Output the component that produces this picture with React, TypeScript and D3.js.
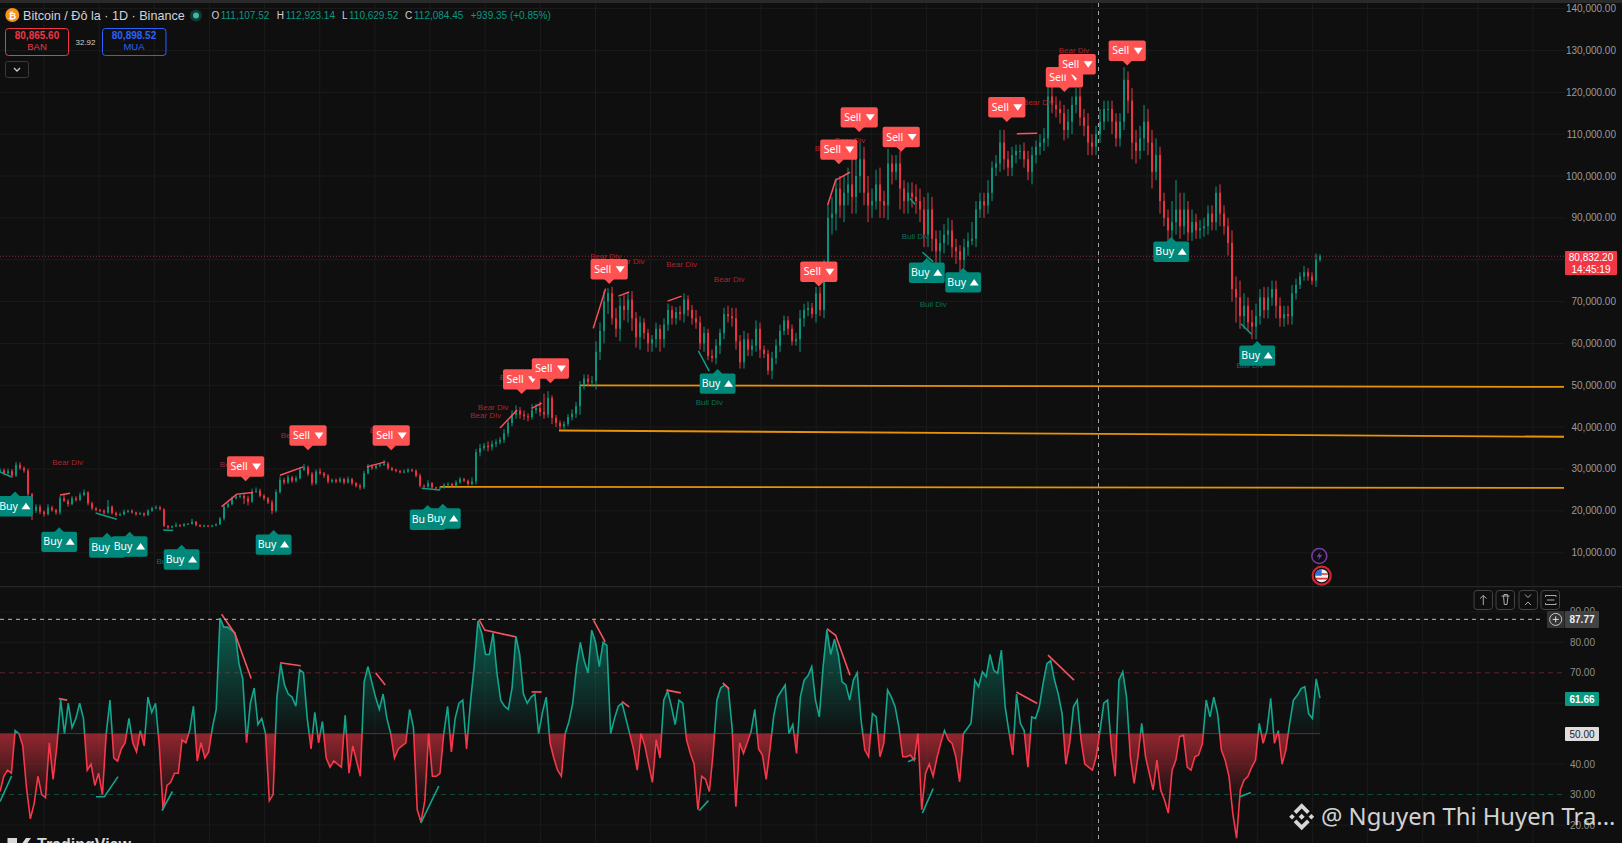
import { area, format, line as d3_line, range, scaleLinear } from "d3";

// prices are in thousands of USD, one bar every 4px of the picture
const closes = [
  29.7,29.0,29.5,28.4,31.0,30.2,29.6,24.0,20.0,21.0,19.8,19.2,20.8,20.2,19.6,23.0,22.4,21.6,23.0,22.6,23.8,24.4,21.8,20.6,20.2,
  20.0,19.6,21.0,19.5,19.0,19.2,19.8,20.0,19.6,19.2,19.4,19.0,20.0,20.6,20.8,20.4,16.4,16.0,16.3,16.6,16.4,16.8,16.9,17.4,16.6,
  16.3,16.5,16.3,16.5,16.8,18.2,21.0,21.6,23.0,23.4,23.6,23.0,22.2,24.6,24.8,23.6,23.0,22.0,20.0,24.5,27.4,26.8,28.0,27.2,27.8,
  29.8,30.4,28.8,26.6,29.4,29.0,28.4,27.0,27.4,27.0,27.6,26.8,27.6,26.6,26.0,25.6,29.0,30.6,30.2,30.8,31.0,31.3,30.2,29.8,29.5,
  29.2,29.4,29.8,29.6,28.4,26.0,25.8,26.6,25.6,25.4,25.6,26.2,26.4,26.0,26.8,27.6,27.2,26.4,27.0,34.0,35.0,35.6,35.2,36.0,36.4,
  37.0,38.5,41.0,43.0,44.0,43.0,42.6,42.4,44.0,44.6,43.6,43.0,47.0,42.2,41.0,40.2,40.8,42.4,43.2,45.0,50.0,51.6,50.8,51.0,58.0,
  63,70,72,66,63.5,69,68,70.5,66,61.5,65,62.5,60,61,63.5,61,64.5,68,66,67.5,67,70.5,68,66,65,
  60,62.5,57,56.5,59.5,62.5,67,66.5,66,60.5,55.5,61,58.5,59.5,63.5,58.5,57.5,53.5,56.5,59.5,63,65.5,63.5,60.5,61,
  66,68,68.5,67,72,68,78,90,91,97,93,96,98,95,100,104,96,93,94,98,94,93,103,101,103,
  97,94,96,95,94,92,86,92,85,82,84,86,87,83,82,80,83,84.5,85,92,94,93,96,102,103,
  108,104,102,105,106,106,104,101,105,107,108,109,119,117,116,115,111,113,117,119,114,112,108,107,110,
  113,116,116,113,109,113,123,118,108,106,109,113,108,101,105,94,90,87,89,92,88,92,86.5,89,87,
  87.5,88,91,89,96,91,88,84,73,71,66.5,69,65,64,66.5,71,68,71,73,69,66,67,66.5,72,74,
  76,77,76,75,80,80.8,
];
const wickUp = [
  .5,.4,.6,.5,.7,.6,.4,.5,.3,.6,.5,.3,.8,.4,.3,.6,.8,.4,.5,.5,.6,.7,.3,.4,.3,
  .3,.4,1.6,.3,.3,.4,.5,.3,.4,.2,.3,.2,.4,.4,.5,.4,.2,.2,.2,.6,.2,.3,.2,.7,.2,
  .2,.2,.1,.2,.2,.3,.4,.4,.4,.5,.4,.5,.6,.7,.8,.5,.4,.3,.6,.6,.8,.5,.6,.4,.6,
  .5,.8,.4,.5,.5,.8,.3,.4,.3,.3,.5,.3,.6,.3,.3,.5,.6,.6,.5,.4,.4,.8,.4,.3,.3,
  .3,.5,.4,.3,.3,.5,.3,.7,.3,.2,.3,.4,.4,.3,.5,.5,.3,.3,1.0,.8,1,.6,1,.8,.7,
  .6,1,.8,1,1.2,.8,1,.7,1.5,1,1.5,4.4,1.6,.6,.7,.6,.6,.7,1,1,1,1,1,1.2,2.5,
  2,2.5,1.2,1.5,2.5,2,2.5,1.5,2,1.5,1.5,1,1,1,1.5,1,1.5,1.5,1,1.2,1.5,1.5,1,1.2,2,
  1.5,1.5,1,1.5,1.5,1,1.5,2,2,2.5,1.5,2,1.5,1.5,2,1.5,1,1,1.5,1.5,1.5,1.2,1,1,1.5,
  2,1.5,1.5,1.2,1.5,1.5,2,3,4,2.5,3,4,4,6,5,4,3,4,3,3.5,4,2.5,3.5,2,2,
  3,2,2.5,2.5,3,3,3,4,3,2,3,2.5,3,2.5,2,1.5,2,2,4,2,2,2,3,1.5,2,
  3,3,2,2,1.5,1.5,2,2,2,1.5,2,2.5,3,3,2,2,2,3,2,2,2,2,3,2,2,
  3,2,2,2,2,2,3,2,3,3,3,4,3,3,4,2,2,2,5,7,4,4,2,3,2,
  2,2,2,2,1.5,2,2,2,3,3,4,3,2,3,3,2,2.5,2.5,2,2,2,2,2,2,1.5,
  1,1.5,1,1,1.5,.5,
];
const wickDown = [
  .4,.5,.4,.5,.3,.4,.5,.5,2.2,.5,.6,.6,.3,.4,.5,.5,.3,.6,.3,.4,.3,.3,.5,.4,.3,
  .3,.5,.3,.4,.4,.3,.3,.3,.3,.4,.2,.4,.2,.2,.2,.3,.3,.3,.2,.2,.3,.2,.2,.2,.3,
  .2,.2,.2,.2,.2,.2,.5,.4,.3,.3,.4,1.4,.9,.3,.3,.4,.5,.4,.8,.4,.4,.5,.4,.5,.4,
  .3,.3,.5,.6,.4,.4,.6,.5,.3,.4,.3,.5,.3,.5,.4,.6,.4,.3,.4,.3,.3,.3,.4,.3,.3,
  .3,.2,.3,.3,.4,.4,.3,.3,.3,.5,.3,.3,.2,.4,.3,.3,.3,.4,.3,.7,1,.6,1,.8,.8,
  .5,.8,.8,.8,1,1,.9,1,.6,.8,1,1,.8,1.5,1,.8,.6,.6,.8,1,2,1,1,1.2,2,
  2,3,3,1.5,2,3,2.5,3,3,2.5,3,1.5,2,2,2,3,2,1.5,1.5,1.5,1.5,2,1.5,1.5,1.5,
  1.5,2,1,1,1.5,2,1.5,1.5,2,2,1.5,1.5,1.5,1.5,1.5,2,1,1,2,1.5,1.5,1,1.5,1,1,
  3,2,1.5,1,2,1.5,2,3,4,4,3,4,3,4,4,4,3,4,3,2,4,3,3.5,3,2,
  5,3,3,2.5,3,3,3,3,3,3,3,2.5,2.5,2.5,3,3,2,2,1,2,2,3,2,2,2,
  2,2.5,2,2,2,2,2,2,3,2,2,2,2,2,2,2.5,2.5,2,3,2,2,2.5,3,2,2,
  2,2,3,3,2,2,2,3,4,3,2,3,3,4,2,3,2,6,2,3,3,2,2,2,2,
  2,2,2,2,2,3,2,3,3,6,3,3,2,3,3,2,2,2,2,3,2,2,2,2,1.5,
  1,1,1,1,1.5,.5,
];

const rsiValues = [
  31,36,38,37,51,50,46,32,22,27,36,30,29,47,35,46,61,50,60,52,55,60,55,38,40,33,37,30,50,61,42,41,45,47,55,47,44,51,46,62,57,60,46,25,33,34,37,37,48,47,
  51,59,41,47,42,44,52,58,88,85,85,84,83,73,68,47,60,65,53,55,50,28,30,62,73,66,63,62,59,71,70,55,45,57,47,54,42,39,41,40,39,56,37,46,41,36,67,72,67,62,
  58,63,55,50,42,45,46,47,58,52,25,21,28,50,36,36,37,50,59,44,55,60,61,45,60,72,87,83,76,76,83,70,61,59,58,65,82,76,63,60,62,63,50,57,62,47,42,38,36,50,
  54,60,72,80,74,70,84,80,72,80,79,50,55,59,60,55,50,45,38,50,46,40,34,48,42,
  61,64,59,53,61,60,48,43.5,40,25,36,35,31,43.5,61,65,66,65,52,26,47,43.5,47,50.6,58,45,43,35,45,56,62,64,66,50,53,43.5,62,67.6,69,72,61,55.5,72,84,76,81,76,67,66,61,
  67.6,70,54.5,44.6,42.4,56.6,55.5,42.4,46.8,64.3,62,58.8,52,42.4,42.4,43,41.3,50,25,37,40,36,42,46.8,51,48,46.8,42.4,34.2,50,51.7,53.4,67.6,65.4,70.3,68.7,76,70.8,69.8,77.4,58.8,50.6,43,63,53.4,51,39,55.5,55,58.8,
  66.5,73,74,67.6,63,56.6,40,46.8,58.8,61,48,40,39,38,42.4,51,60,61,45.7,36,67.6,70.3,62,42.4,33.7,42.4,53.4,42.4,37,31.5,41.3,31.5,28.2,23.9,38,41.3,49,49.5,39,38,42.4,43,46.8,61,55.5,62,56.6,44.6,41.3,36,
  23.9,15.7,31.5,34.8,36,39,41.3,53.4,46.8,51,61.6,46.8,51,40,44.6,53.4,61,62.6,64.8,65.4,56.6,55,68,61.66,
];

const priceTicks = [10,20,30,40,50,60,70,80,90,100,110,120,130,140];
const rsiTicks = [20,30,40,70,80,90];
const gridBars = range(0, 28);

const buyBars = [3.75,14.8,26.75,32.4,45.4,68.4,106.9,110.7,179.4,231.7,240.8,292.8,314.3];
const buyPrices = [24.6,16.1,14.75,15,11.9,15.45,21.4,21.7,53.9,80.4,78.1,85.4,60.6];
const sellBars = [61.4,77,97.8,130.4,137.6,152.3,204.7,209.7,214.8,225.3,251.7,266.1,269.3,281.8];
const sellPrices = [27.1,34.5,34.5,47.9,50.5,74.2,73.6,102.8,110.5,105.8,112.9,120.1,123.2,126.4];

const bearDivBars = [16.9,74,96.3,58.8,123.3,121.4,128.8,135.4,151.4,157.3,170.4,182.3,212.5,207.5,268.5,259.6];
const bearDivPrices = [31.6,38.2,39.3,31.2,44.8,43,52,53.2,80.8,79.8,78.9,75.4,108.5,106.6,130,117.8];
const bullDivBars = [177.3,228.8,233.3,312.5,25.8,42.5,109.5,2.5];
const bullDivPrices = [45.9,85.6,69.5,54.8,10.6,7.9,17.2,20.9];

type Pt = [number, number];
const priceBearLines: Pt[][] = [
  [[15,23.8],[17.5,24.2]],[[55.4,21],[59.2,24],[63.3,24.4]],[[70,28.5],[75.8,30.5]],[[91.7,30.5],[96.3,31.7]],
  [[125,39.8],[129.3,44.1]],[[132.9,44.5],[135.4,45.7]],[[148.3,63.6],[151.4,73.1]],[[154.6,71.3],[157.3,72.3]],
  [[166.9,70.1],[170.4,71.3]],[[206.9,93],[208.9,99],[212.5,100.9]],[[254.2,110.1],[259.3,110.2]],[[262.1,121.6],[268.8,122.4]],
];
const priceBullLines: Pt[][] = [
  [[0,29.3],[2.9,28.1]],[[23.9,19.5],[29.2,18]],[[40.8,15.4],[43.3,15.3]],[[105.4,25.4],[110,25]],
  [[174.6,58.2],[177.3,53.4]],[[227.5,94.6],[228.8,93.2]],[[230.6,81.8],[233.3,79.5]],[[310.2,64.7],[312.9,62.2]],
];
const rsiBearLines: Pt[][] = [
  [[14.7,61.5],[16.8,61]],[[55.4,89.2],[58.7,82.9],[62.8,68.1]],[[70,73.3],[75.2,72.3]],[[93.9,70],[96.3,66]],
  [[119.7,87.5],[121.2,84],[128.9,81.8]],[[132.9,63.7],[135.4,63.7]],[[148.4,87.2],[151.3,80.1]],[[155.5,60.5],[157.3,58.8]],
  [[166.6,64.3],[170.2,63.4]],[[180.7,66.7],[182.3,64.7]],[[206.7,84.5],[208.9,82.3],[212.5,69.2]],[[254.1,63.7],[259.3,59.9]],[[262,75.8],[268.5,67.6]],
];
const rsiBullLines: Pt[][] = [
  [[0,27.7],[2.9,36.1]],[[24,29.3],[26.1,29.3],[29.5,35.9]],[[40.5,24.7],[43.1,31]],[[105.2,20.6],[109.7,32.8]],
  [[174.8,24.7],[177.1,28]],[[227,40.8],[229,41.9]],[[230.6,23.9],[233.3,32]],[[310,29.3],[312.7,30.7]],
];
const levelStarts = [145, 139.75, 110];
const levelEnds = [391, 391, 391];
const levelStartPrices = [50, 39.2, 25.75];
const levelEndPrices = [49.6, 37.7, 25.5];

const lastPrice = 80.832;
const UP = "#089981";
const DOWN = "#f23645";
const FONT = "'Liberation Sans', Arial, sans-serif";

const x = scaleLinear().domain([0, 330]).range([0, 1320]);
const y = scaleLinear().domain([10, 140]).range([552.7, 8.6]);
const rsiX = scaleLinear().domain([0, rsiValues.length - 1]).range([0, 1320]);
const rsiY = scaleLinear().domain([20, 80]).range([825, 642.3]);
const fmt = format(",.2f");

const priceLine = d3_line<Pt>().x((d) => x(d[0])).y((d) => y(d[1]));
const rsiDivLine = d3_line<Pt>().x((d) => x(d[0])).y((d) => rsiY(d[1]));
const rsiPath = d3_line<number>().x((_, i) => rsiX(i)).y((d) => rsiY(d));
const rsiArea = area<number>().x((_, i) => rsiX(i)).y0(rsiY(50)).y1((d) => rsiY(d));

const SignalLabel = ({ bar, price, kind }: { bar: number; price: number; kind: "Buy" | "Sell" }) => {
  const cx = x(bar);
  const tip = y(price);
  const isBuy = kind === "Buy";
  const w = isBuy ? 35.8 : 37.2;
  const h = 20.4;
  const top = isBuy ? tip + 4.5 : tip - 4.5 - h;
  const tri = isBuy
    ? `M${cx - 5},${top + 0.5} L${cx},${tip} L${cx + 5},${top + 0.5} Z`
    : `M${cx - 5},${top + h - 0.5} L${cx},${tip} L${cx + 5},${top + h - 0.5} Z`;
  const ix = cx + 11;
  const iy = top + h / 2;
  const glyph = isBuy
    ? `M${ix - 4.5},${iy + 3} L${ix},${iy - 3.5} L${ix + 4.5},${iy + 3} Z`
    : `M${ix - 4.5},${iy - 3} L${ix},${iy + 3.5} L${ix + 4.5},${iy - 3} Z`;
  const fill = isBuy ? "#00897b" : "#ff5252";
  return (
    <g>
      <rect x={cx - w / 2} y={top} width={w} height={h} rx={2} fill={fill} />
      <path d={tri} fill={fill} />
      <text x={cx - 6.5} y={iy + 3.5} textAnchor="middle" fontSize={10.5} fontFamily="'Noto Sans', sans-serif" fill="#fff">
        {kind}
      </text>
      <path d={glyph} fill="#fff" />
    </g>
  );
};

const AxisBox = ({ top, h, fill, color, lines, bold }: { top: number; h: number; fill: string; color: string; lines: string[]; bold?: boolean }) => (
  <g>
    <rect x={1565} y={top} width={lines.length > 1 ? 52 : 34} height={h} rx={1} fill={fill} />
    {lines.map((t, i) => (
      <text
        key={t}
        x={lines.length > 1 ? 1591 : 1582}
        y={top + (lines.length > 1 ? 10 + i * 11.5 : h / 2 + 3.5)}
        textAnchor="middle"
        fontSize={10}
        fontWeight={bold ? 700 : 400}
        fontFamily={FONT}
        fill={color}
      >
        {t}
      </text>
    ))}
  </g>
);

export default function App() {
  const grid = "#1b1b1b";
  return (
    <svg
      width={1622}
      height={843}
      viewBox="0 0 1622 843"
      style={{ position: "fixed", left: 0, top: 0, display: "block", background: "#0f0f0f" }}
    >
      <defs>
        <clipPath id="above">
          <rect x={0} y={587} width={1622} height={rsiY(50) - 587} />
        </clipPath>
        <clipPath id="below">
          <rect x={0} y={rsiY(50)} width={1622} height={843 - rsiY(50)} />
        </clipPath>
        <linearGradient id="greenFill" gradientUnits="userSpaceOnUse" x1={0} x2={0} y1={rsiY(85)} y2={rsiY(50)}>
          <stop offset="0" stopColor={UP} stopOpacity={0.55} />
          <stop offset="1" stopColor={UP} stopOpacity={0.02} />
        </linearGradient>
        <linearGradient id="redFill" gradientUnits="userSpaceOnUse" x1={0} x2={0} y1={rsiY(50)} y2={rsiY(28)}>
          <stop offset="0" stopColor={DOWN} stopOpacity={0.58} />
          <stop offset="1" stopColor={DOWN} stopOpacity={0.02} />
        </linearGradient>
      </defs>

      {/* grid */}
      <rect x={0} y={0} width={1622} height={3} fill="#2a2a2a" />
      {gridBars.map((k) => (
        <line key={k} x1={44 + k * 55.15} x2={44 + k * 55.15} y1={3} y2={843} stroke={grid} />
      ))}
      {priceTicks.map((t) => (
        <line key={t} x1={0} x2={1565} y1={y(t)} y2={y(t)} stroke={grid} />
      ))}
      {[20, 40, 60, 80, 90].map((t) => (
        <line key={t} x1={0} x2={1565} y1={rsiY(t)} y2={rsiY(t)} stroke={grid} />
      ))}
      <line x1={0} x2={1622} y1={586.7} y2={586.7} stroke="#2e2e2e" />

      {/* last price */}
      <line x1={0} x2={1565} y1={y(lastPrice)} y2={y(lastPrice)} stroke="#8f2f38" strokeDasharray="1 2" />

      {/* key levels */}
      {levelStarts.map((s, i) => (
        <line key={i} x1={x(s)} x2={x(levelEnds[i])} y1={y(levelStartPrices[i])} y2={y(levelEndPrices[i])} stroke="#e8920a" strokeWidth={1.8} />
      ))}

      {/* candles */}
      {closes.map((c, i) => {
        const o = i === 0 ? c : closes[i - 1];
        const color = c >= o ? UP : DOWN;
        const hi = Math.max(o, c) + (wickUp[i] ?? 0.5);
        const lo = Math.min(o, c) - (wickDown[i] ?? 0.5);
        return (
          <g key={i}>
            <line x1={x(i)} x2={x(i)} y1={y(hi)} y2={y(lo)} stroke={color} strokeWidth={1} />
            <rect x={x(i) - 0.9} width={1.8} y={y(Math.max(o, c))} height={Math.max(1, y(Math.min(o, c)) - y(Math.max(o, c)))} fill={color} />
          </g>
        );
      })}

      {/* divergence lines */}
      {priceBearLines.map((l, i) => (
        <path key={i} d={priceLine(l)!} fill="none" stroke="#f7525f" strokeWidth={1.5} />
      ))}
      {priceBullLines.map((l, i) => (
        <path key={i} d={priceLine(l)!} fill="none" stroke="#0e9c84" strokeWidth={1.5} />
      ))}

      {/* divergence labels */}
      {bearDivBars.map((b, i) => (
        <text key={i} x={x(b)} y={y(bearDivPrices[i]) + 3} textAnchor="middle" fontSize={8} fontFamily={FONT} fill="#a8252f">
          Bear Div
        </text>
      ))}
      {bullDivBars.map((b, i) => (
        <text key={i} x={x(b)} y={y(bullDivPrices[i]) + 3} textAnchor="middle" fontSize={8} fontFamily={FONT} fill="#0b6d5d">
          Bull Div
        </text>
      ))}

      {/* buy / sell */}
      {buyBars.map((b, i) => (
        <SignalLabel key={i} bar={b} price={buyPrices[i]} kind="Buy" />
      ))}
      {sellBars.map((b, i) => (
        <SignalLabel key={i} bar={b} price={sellPrices[i]} kind="Sell" />
      ))}

      {/* crosshair */}
      <line x1={1098.5} x2={1098.5} y1={3} y2={843} stroke="#a6a6a6" strokeDasharray="4 4" />

      {/* rsi pane */}
      <line x1={0} x2={1565} y1={rsiY(70)} y2={rsiY(70)} stroke="#5c2329" strokeDasharray="5 4" />
      <line x1={0} x2={1565} y1={rsiY(30)} y2={rsiY(30)} stroke="#0f4b40" strokeDasharray="5 4" />
      <path d={rsiArea(rsiValues)!} fill="url(#greenFill)" clipPath="url(#above)" />
      <path d={rsiArea(rsiValues)!} fill="url(#redFill)" clipPath="url(#below)" />
      <line x1={0} x2={1320} y1={rsiY(50)} y2={rsiY(50)} stroke="#3c3c3c" />
      <path d={rsiPath(rsiValues)!} fill="none" stroke="#14a58d" strokeWidth={1.6} clipPath="url(#above)" />
      <path d={rsiPath(rsiValues)!} fill="none" stroke="#f7374a" strokeWidth={1.6} clipPath="url(#below)" />
      {rsiBearLines.map((l, i) => (
        <path key={i} d={rsiDivLine(l)!} fill="none" stroke="#f7525f" strokeWidth={1.6} />
      ))}
      {rsiBullLines.map((l, i) => (
        <path key={i} d={rsiDivLine(l)!} fill="none" stroke="#14a58d" strokeWidth={1.6} />
      ))}
      <line x1={0} x2={1543} y1={619.3} y2={619.3} stroke="#bdbdbd" strokeDasharray="4 4" />

      {/* price axis */}
      {priceTicks.map((t) => (
        <text key={t} x={1616} y={y(t) + 3.5} textAnchor="end" fontSize={10} fontFamily={FONT} fill="#9b9b9b">
          {fmt(t * 1000)}
        </text>
      ))}
      {rsiTicks.map((t) => (
        <text key={t} x={1595} y={rsiY(t) + 3.5} textAnchor="end" fontSize={10} fontFamily={FONT} fill="#8e8e8e">
          {fmt(t)}
        </text>
      ))}
      <AxisBox top={251} h={24} fill={DOWN} color="#fff" lines={["80,832.20", "14:45:19"]} />
      <rect x={1547} y={611} width={17.5} height={17} rx={1} fill="#333" />
      <circle cx={1555.7} cy={619.4} r={6} fill="none" stroke="#c8c8c8" />
      <path d="M1555.7,616.4 V622.4 M1552.7,619.4 H1558.7" stroke="#e0e0e0" />
      <AxisBox top={611} h={17} fill="#434343" color="#f0f0f0" lines={["87.77"]} bold />
      <AxisBox top={692} h={14} fill={UP} color="#fff" lines={["61.66"]} bold />
      <AxisBox top={727} h={14} fill="#dedede" color="#222" lines={["50.00"]} />

      {/* pane buttons */}
      {[1474, 1496, 1519, 1541].map((bx) => (
        <rect key={bx} x={bx} y={590.5} width={18.5} height={19} rx={3} fill="#0f0f0f" stroke="#444" />
      ))}
      <path d="M1483.3,605 V595.5 M1480,598.6 L1483.3,595.5 L1486.6,598.6" fill="none" stroke="#aaa" />
      <path d="M1501.5,596 H1509.5 M1503.5,596 L1504.3,604.5 H1507 L1508,596 M1504,596 V594.5 H1507.5 V596" fill="none" stroke="#aaa" />
      <path d="M1525,594.5 L1528,597.5 L1531,594.5 M1525,605 L1528,602 L1531,605" fill="none" stroke="#aaa" />
      <path d="M1545.5,597 V595.5 H1556 V597 M1545.5,603 V604.5 H1556 V603 M1547,600 H1554.5" fill="none" stroke="#aaa" />

      {/* header */}
      <circle cx={12.3} cy={15} r={7} fill="#f7931a" />
      <text x={12.3} y={18.5} textAnchor="middle" fontSize={9.5} fontWeight={700} fontFamily={FONT} fill="#fff">₿</text>
      <text x={23} y={19.8} fontSize={12.6} fontFamily={FONT} fill="#d1d4dc">Bitcoin / Đô la · 1D · Binance</text>
      <circle cx={196} cy={15.5} r={6} fill="#0d3b34" />
      <circle cx={196} cy={15.5} r={3} fill="#3fb7a4" />
      {[["O", 211.4, "111,107.52", 220.7], ["H", 276.8, "112,923.14", 285.7], ["L", 342, "110,629.52", 349], ["C", 405, "112,084.45", 414]].map(([k, kx, v, vx]) => (
        <g key={k as string} fontSize={10} fontFamily={FONT}>
          <text x={kx as number} y={19} fill="#d1d4dc">{k}</text>
          <text x={vx as number} y={19} fill={UP}>{v}</text>
        </g>
      ))}
      <text x={470.7} y={19} fontSize={10} fontFamily={FONT} fill={UP}>+939.35 (+0.85%)</text>

      <rect x={5.5} y={28.5} width={63} height={27} rx={3} fill="none" stroke={DOWN} />
      <text x={37} y={39} textAnchor="middle" fontSize={10} fontWeight={700} fontFamily={FONT} fill={DOWN}>80,865.60</text>
      <text x={37} y={50} textAnchor="middle" fontSize={9.5} fontFamily={FONT} fill={DOWN}>BAN</text>
      <text x={85.5} y={44.5} textAnchor="middle" fontSize={8} fontFamily={FONT} fill="#d0d0d0">32.92</text>
      <rect x={102.5} y={28.5} width={63.5} height={27} rx={3} fill="none" stroke="#2962ff" />
      <text x={134} y={39} textAnchor="middle" fontSize={10} fontWeight={700} fontFamily={FONT} fill="#2962ff">80,898.52</text>
      <text x={134} y={50} textAnchor="middle" fontSize={9.5} fontFamily={FONT} fill="#2962ff">MUA</text>
      <rect x={5.5} y={61.5} width={23} height={16} rx={2} fill="none" stroke="#3a3a3a" />
      <path d="M14,68 L17,71 L20,68" fill="none" stroke="#ccc" strokeWidth={1.3} />

      {/* event icons */}
      <circle cx={1319.3} cy={556} r={7.5} fill="#0f0f0f" stroke="#7a3ea6" strokeWidth={1.5} />
      <path d="M1320.8,551.5 L1316.6,556.8 H1319.3 L1318,560.5 L1322.3,555 H1319.6 Z" fill="#7a3ea6" />
      <circle cx={1321.7} cy={575.7} r={9} fill="#0f0f0f" stroke="#d8242f" strokeWidth={2.2} />
      <circle cx={1321.7} cy={575.7} r={6.5} fill="#f2f2f2" />
      <path d="M1315.6,574 H1327.8 M1315.6,578.6 H1327.8" stroke="#e0323c" strokeWidth={1.6} />
      <path d="M1315.2,575.7 A6.5,6.5 0 0 1 1321.7,569.2 V575.7 Z" fill="#2f6fd8" />

      {/* watermarks */}
      <g transform="translate(1301.7,816.7)" fill="#d6d6d6">
        <path d="M0,-13.5 L8,-5.5 L5.3,-2.8 L0,-8.1 L-5.3,-2.8 L-8,-5.5 Z" />
        <path d="M0,13.5 L8,5.5 L5.3,2.8 L0,8.1 L-5.3,2.8 L-8,5.5 Z" />
        <path d="M0,-3 L3,0 L0,3 L-3,0 Z" />
        <path d="M-9.7,-2.8 L-6.9,0 L-9.7,2.8 L-12.5,0 Z" />
        <path d="M9.7,-2.8 L12.5,0 L9.7,2.8 L6.9,0 Z" />
      </g>
      <text x={1321} y={825} fontSize={23.8} fontFamily="'Noto Sans', sans-serif" fill="#d2d2d2">
        @ Nguyen Thi Huyen Tra...
      </text>
      <path d="M7.5,838 H17 V845 H7.5 Z M21,845 L26,838 H31 L26,845 Z" fill="#d8d8d8" />
      <text x={37} y={850} fontSize={16} fontWeight={700} fontFamily={FONT} fill="#d8d8d8">TradingView</text>
    </svg>
  );
}
